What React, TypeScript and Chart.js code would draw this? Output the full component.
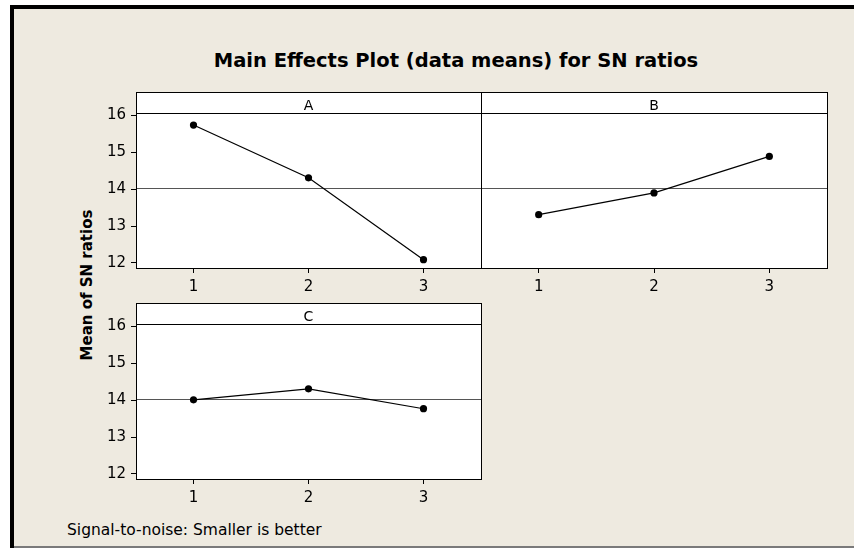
import React, { useEffect, useRef } from "react";
import { Chart, registerables } from "chart.js";
Chart.register(...registerables);

const LEVELS = [1, 2, 3];
const X_TICKS = [1, 2, 3];
const Y_TICKS = [12, 13, 14, 15, 16];
const FACTOR_NAMES = ["A", "B", "C"];
const FACTOR_A = [15.74, 14.31, 12.09];
const FACTOR_B = [13.31, 13.9, 14.89];
const FACTOR_C = [14.01, 14.31, 13.77];
const TITLE = "Main Effects Plot (data means) for SN ratios";
const Y_TITLE = "Mean of SN ratios";
const FOOTNOTE = "Signal-to-noise: Smaller is better";
const X_MIN = 0.5;
const X_MAX = 3.5;
const Y_MIN = 11.864;
const Y_MAX = 16.637;

const ALL = [...FACTOR_A, ...FACTOR_B, ...FACTOR_C];
const GRAND_MEAN = ALL.reduce((a, b) => a + b, 0) / ALL.length;

const FONT = "'DejaVu Sans', Tahoma, sans-serif";
const BG = "#EEEAE0";

type PanelProps = {
  label: string;
  values: number[];
  showY: boolean;
  boxLeft: number;
  boxTop: number;
  boxW: number;
  boxH: number;
};

const Y_AXIS_W = 76;
const X_AXIS_H = 30;
const PAD = 4;

function Panel({ label, values, showY, boxLeft, boxTop, boxW, boxH }: PanelProps) {
  const ref = useRef<HTMLCanvasElement | null>(null);
  const left = boxLeft - (showY ? Y_AXIS_W : PAD);
  const top = boxTop - PAD;
  const width = boxW + (showY ? Y_AXIS_W : PAD) + PAD;
  const height = boxH + PAD + X_AXIS_H;

  useEffect(() => {
    if (!ref.current) return;
    const decor = {
      id: "decor" + label,
      beforeDraw(chart: any) {
        const { ctx, chartArea: a } = chart;
        ctx.save();
        ctx.fillStyle = "#ffffff";
        ctx.fillRect(a.left, a.top, a.right - a.left, a.bottom - a.top);
        ctx.restore();
      },
      beforeDatasetsDraw(chart: any) {
        const { ctx, chartArea: a, scales } = chart;
        ctx.save();
        const ym = Math.round(scales.y.getPixelForValue(GRAND_MEAN)) + 0.5;
        ctx.strokeStyle = "#555555";
        ctx.lineWidth = 1;
        ctx.beginPath();
        ctx.moveTo(a.left, ym);
        ctx.lineTo(a.right, ym);
        ctx.stroke();
        const hy = Math.round(a.top + 21) + 0.5;
        ctx.strokeStyle = "#000000";
        ctx.beginPath();
        ctx.moveTo(a.left, hy);
        ctx.lineTo(a.right, hy);
        ctx.stroke();
        ctx.fillStyle = "#000";
        ctx.font = "14px " + FONT;
        ctx.textAlign = "center";
        ctx.textBaseline = "alphabetic";
        ctx.fillText(label, (a.left + a.right) / 2, a.top + 18);
        ctx.restore();
      },
      afterDraw(chart: any) {
        const { ctx, chartArea: a } = chart;
        ctx.save();
        ctx.strokeStyle = "#000";
        ctx.lineWidth = 1;
        ctx.strokeRect(Math.round(a.left) + 0.5, Math.round(a.top) + 0.5, Math.round(a.right - a.left), Math.round(a.bottom - a.top));
        ctx.restore();
      },
    };
    const tickFont = { family: FONT, size: 15 };
    const chart = new Chart(ref.current, {
      type: "line",
      data: {
        datasets: [
          {
            data: LEVELS.map((x, i) => ({ x, y: values[i] })),
            borderColor: "#000",
            borderWidth: 1.2,
            backgroundColor: "#000",
            pointBackgroundColor: "#000",
            pointBorderWidth: 0,
            pointRadius: 3.6,
            tension: 0,
          },
        ],
      },
      options: {
        animation: false,
        responsive: false,
        maintainAspectRatio: false,
        devicePixelRatio: 1,
        layout: { padding: { top: PAD, right: PAD, left: showY ? 0 : PAD, bottom: 0 } },
        plugins: { legend: { display: false }, tooltip: { enabled: false }, title: { display: false } },
        scales: {
          x: {
            type: "linear",
            min: X_MIN,
            max: X_MAX,
            afterBuildTicks: (s: any) => {
              s.ticks = X_TICKS.map((v) => ({ value: v }));
            },
            afterFit: (s: any) => {
              s.height = X_AXIS_H;
              s.paddingLeft = 0;
              s.paddingRight = 0;
            },
            grid: { drawOnChartArea: false, drawTicks: true, tickLength: 5, color: "#000" },
            border: { display: false },
            ticks: { color: "#000", font: tickFont, padding: 5, maxRotation: 0, autoSkip: false },
          },
          y: {
            type: "linear",
            display: showY,
            min: Y_MIN,
            max: Y_MAX,
            afterBuildTicks: (s: any) => {
              s.ticks = Y_TICKS.map((v) => ({ value: v }));
            },
            afterFit: (s: any) => {
              s.width = showY ? Y_AXIS_W : 0;
              s.paddingTop = 0;
              s.paddingBottom = 0;
            },
            grid: { drawOnChartArea: false, drawTicks: true, tickLength: 5, color: "#000" },
            border: { display: false },
            ticks: { color: "#000", font: tickFont, padding: 5, autoSkip: false },
          },
        },
      },
      plugins: [decor],
    } as any);
    return () => chart.destroy();
  }, []);

  return (
    <canvas
      ref={ref}
      width={width}
      height={height}
      style={{ position: "absolute", left, top, width, height }}
    />
  );
}

export default function App() {
  return (
    <div style={{ position: "fixed", left: 0, top: 0, width: 854, height: 548, background: "#fff", overflow: "hidden" }}>
      <div style={{ position: "absolute", left: 14, top: 8, width: 840, height: 538, background: BG }} />
      <div style={{ position: "absolute", left: 10, top: 5, width: 844, height: 3.5, background: "#000" }} />
      <div style={{ position: "absolute", left: 10, top: 5, width: 4, height: 543, background: "#000" }} />
      <div style={{ position: "absolute", left: 14, top: 546, width: 840, height: 2, background: "#7a7a7a" }} />
      <div style={{ position: "absolute", left: 456, top: 51, transform: "translateX(-50%)", whiteSpace: "nowrap", font: "bold 19.5px " + FONT, lineHeight: "20px", color: "#000" }}>
        {TITLE}
      </div>
      <div style={{ position: "absolute", left: 87, top: 285, transform: "translate(-50%,-50%) rotate(-90deg)", whiteSpace: "nowrap", font: "bold 15px " + FONT, lineHeight: "16px", color: "#000" }}>
        {Y_TITLE}
      </div>
      <div style={{ position: "absolute", left: 67, top: 522, whiteSpace: "nowrap", font: "15.5px " + FONT, lineHeight: "16px", color: "#000" }}>
        {FOOTNOTE}
      </div>
      <Panel label={FACTOR_NAMES[0]} values={FACTOR_A} showY={true} boxLeft={136} boxTop={92} boxW={345} boxH={176} />
      <Panel label={FACTOR_NAMES[1]} values={FACTOR_B} showY={false} boxLeft={481} boxTop={92} boxW={346} boxH={176} />
      <Panel label={FACTOR_NAMES[2]} values={FACTOR_C} showY={true} boxLeft={136} boxTop={303} boxW={345} boxH={176} />
    </div>
  );
}
